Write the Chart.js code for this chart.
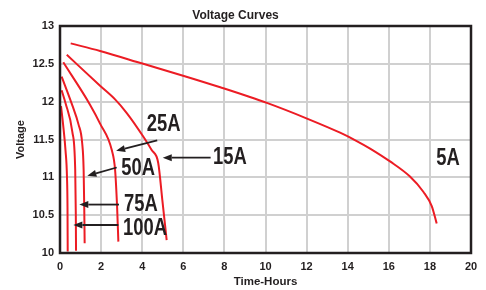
<!DOCTYPE html>
<html>
<head>
<meta charset="utf-8">
<script src="https://cdn.jsdelivr.net/npm/chart.js@4/dist/chart.umd.min.js"></script>
<style>
html,body{margin:0;padding:0;background:#fff;}
#wrap{width:486px;height:290px;}
</style>
</head>
<body>
<div id="wrap"><canvas id="c" width="486" height="290"></canvas></div>
<script>
// ---- data (hours, volts) ----
const xTicks = [0,2,4,6,8,10,12,14,16,18,20];
const yTicks = ['10','10.5','11','11.5','12','12.5','13'];

const t5A   = [0.52,1.95,4.05,6.03,7.8,10.1,12.08,13.63,14.44,15.09,16.06,17.03,17.68,18.09,18.33];
const v5A   = [12.77,12.67,12.50,12.34,12.19,11.98,11.77,11.59,11.48,11.38,11.21,11.01,10.81,10.62,10.39];
const t15A  = [0.33,1.95,2.68,3.25,4.05,4.46,4.78,4.98,5.19];
const v15A  = [12.62,12.21,12.03,11.85,11.54,11.36,11.19,10.70,10.17];
const t25A  = [0.16,1.46,1.95,2.52,2.68,2.78,2.84];
const v25A  = [12.52,11.96,11.71,11.36,11.10,10.6,10.15];
const t50A  = [0.08,0.6,0.9,1.08,1.15,1.18,1.2];
const v50A  = [12.33,11.95,11.7,11.45,11.1,10.6,10.13];
const t75A  = [0.08,0.27,0.6,0.74,0.77,0.78];
const v75A  = [12.15,11.98,11.6,11.1,10.5,10.03];
const t100A = [0.05,0.15,0.27,0.34,0.365,0.375];
const v100A = [11.94,11.7,11.35,11.0,10.6,10.02];

const labelTexts = ['25A','15A','50A','75A','100A','5A'];
const labelT     = [5.04,8.27,3.80,3.94,4.14,18.88];
const labelV     = [11.71,11.27,11.13,10.65,10.34,11.26];

// arrows: tail -> tip
const arrowFromT = [4.73,7.33,2.76,2.87,2.84];
const arrowFromV = [11.49,11.26,11.13,10.64,10.37];
const arrowToT   = [2.73,5.0,1.33,0.94,0.65];
const arrowToV   = [11.35,11.26,11.02,10.64,10.37];

// ---- build ----
const RED = '#ec1c24';
function pts(t,v){return t.map((x,i)=>({x:x,y:v[i]}));}
const series = [[t5A,v5A],[t15A,v15A],[t25A,v25A],[t50A,v50A],[t75A,v75A],[t100A,v100A]];
const datasets = series.map(s=>({
  data: pts(s[0],s[1]), showLine:true, borderColor:RED, borderWidth:2,
  pointRadius:0, cubicInterpolationMode:'monotone', fill:false
}));

const FONT = "'Liberation Sans', Arial, sans-serif";

const overlay = {
  id:'overlay',
  afterDatasetsDraw(chart){
    const ctx = chart.ctx, xs = chart.scales.x, ys = chart.scales.y, a = chart.chartArea;
    ctx.save();
    // arrows
    ctx.strokeStyle = '#231f20'; ctx.fillStyle = '#231f20'; ctx.lineWidth = 1.8;
    for(let i=0;i<arrowFromT.length;i++){
      const x1 = xs.getPixelForValue(arrowFromT[i]), y1 = ys.getPixelForValue(arrowFromV[i]);
      const x2 = xs.getPixelForValue(arrowToT[i]), y2 = ys.getPixelForValue(arrowToV[i]);
      const ang = Math.atan2(y2-y1,x2-x1), L = 9, W = 3.5;
      const bx = x2 - L*Math.cos(ang), by = y2 - L*Math.sin(ang);
      ctx.beginPath(); ctx.moveTo(x1,y1); ctx.lineTo(bx,by); ctx.stroke();
      ctx.beginPath();
      ctx.moveTo(x2,y2);
      ctx.lineTo(bx + W*Math.sin(ang), by - W*Math.cos(ang));
      ctx.lineTo(bx - W*Math.sin(ang), by + W*Math.cos(ang));
      ctx.closePath(); ctx.fill();
    }
    // labels (condensed bold)
    ctx.font = "bold 23px " + FONT;
    ctx.textAlign = 'center'; ctx.textBaseline = 'middle';
    for(let i=0;i<labelTexts.length;i++){
      const px = xs.getPixelForValue(labelT[i]), py = ys.getPixelForValue(labelV[i])+1;
      ctx.save();
      ctx.translate(px,py); ctx.scale(0.8,1);
      ctx.fillText(labelTexts[i], 0, 0);
      ctx.restore();
    }
    // frame
    ctx.strokeStyle = '#231f20'; ctx.lineWidth = 2.5;
    ctx.strokeRect(a.left, a.top, a.right-a.left, a.bottom-a.top);
    ctx.restore();
  }
};

new Chart(document.getElementById('c'), {
  type:'scatter',
  data:{datasets:datasets},
  options:{
    responsive:false, animation:false,
    layout:{padding:{left:0,right:15,top:0,bottom:0}},
    plugins:{
      legend:{display:false}, tooltip:{enabled:false},
      title:{display:true, text:'Voltage Curves', color:'#231f20',
        font:{family:FONT, size:12, weight:'bold'}, padding:{top:8,bottom:3.6}}
    },
    scales:{
      x:{type:'linear', min:0, max:20,
        afterFit(s){ s.height = 37; },
        afterBuildTicks(s){ s.ticks = xTicks.map(v=>({value:v})); },
        ticks:{padding:7, color:'#231f20', font:{family:FONT,size:11,weight:'bold'},
          callback:(v)=>String(v), maxRotation:0, autoSkip:false},
        grid:{color:'#d0d0d0', lineWidth:2, drawTicks:false},
        border:{display:false},
        title:{display:true, text:'Time-Hours', color:'#231f20',
          font:{family:FONT,size:11.5,weight:'bold'}, padding:{top:0,bottom:1.5}}
      },
      y:{type:'linear', min:10, max:13,
        afterFit(s){ s.width = 60; },
        afterBuildTicks(s){ s.ticks = yTicks.map(v=>({value:parseFloat(v)})); },
        ticks:{padding:6, color:'#231f20', font:{family:FONT,size:11,weight:'bold'},
          callback:(v)=>yTicks.find(t=>parseFloat(t)===v) ?? ''},
        grid:{color:'#d0d0d0', lineWidth:2, drawTicks:false},
        border:{display:false},
        title:{display:true, text:'Voltage', color:'#231f20',
          font:{family:FONT,size:11,weight:'bold'}, padding:{top:14,bottom:0}}
      }
    }
  },
  plugins:[overlay]
});
</script>
</body>
</html>
